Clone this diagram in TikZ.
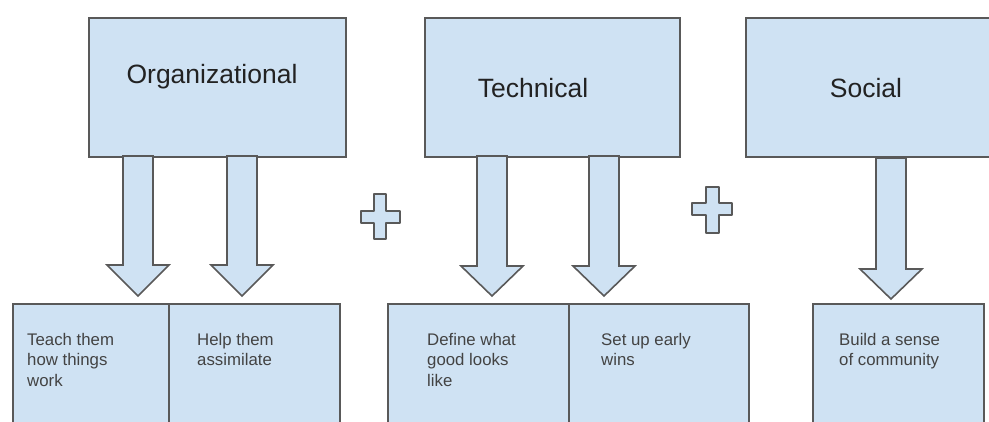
\documentclass[tikz,border=0pt]{standalone}
\usepackage{fontspec}
\setmainfont{Liberation Sans}
\definecolor{boxfill}{HTML}{CFE2F3}
\definecolor{boxline}{HTML}{595959}
\definecolor{txt}{HTML}{222222}
\tikzset{
  panel/.style={draw=boxline, fill=boxfill, line width=1.6pt, inner sep=0pt, anchor=north west},
  blockarrow/.style={draw=boxline, fill=boxfill, line width=1.6pt, line join=miter},
  plussign/.style={draw=boxline, fill=boxfill, line width=1.8pt, line join=round},
  title/.style={font=\fontsize{26.5}{30}\selectfont, text=txt, inner sep=0pt, anchor=base},
  small/.style={font=\fontsize{16.8}{20.5}\selectfont, text=txt!85, inner sep=0pt, align=left, anchor=north west},
}
\newcommand{\barrow}[4]{% cx, top, headstart, tip
  \draw[blockarrow] (#1-15,#2) -- (#1+15,#2) -- (#1+15,#3) -- (#1+31,#3) -- (#1,#4) -- (#1-31,#3) -- (#1-15,#3) -- cycle;}
\newcommand{\plusmark}[8]{% vx1 vx2 vy1 vy2 hx1 hx2 hy1 hy2
  \draw[plussign] (#1,#3) -- (#2,#3) -- (#2,#7) -- (#6,#7) -- (#6,#8) -- (#2,#8) -- (#2,#4) -- (#1,#4) -- (#1,#8) -- (#5,#8) -- (#5,#7) -- (#1,#7) -- cycle;}
\begin{document}
\begin{tikzpicture}[x=1pt, y=-1pt]
\useasboundingbox (0,0) rectangle (989,421);
\clip (0,0) rectangle (989,421);
% top boxes
\node[panel, minimum width=257pt, minimum height=139pt] (org) at (88,17) {};
\node[panel, minimum width=255pt, minimum height=139pt] (tech) at (424,17) {};
\node[panel, minimum width=260pt, minimum height=139pt] (soc) at (745,17) {};
\node[title] (orgt) at (212,83) {Organizational};
\node[title] (techt) at (533,97) {Technical};
\node[title] (soct) at (866,97) {Social};
% bottom boxes
\node[panel, minimum width=156pt, minimum height=140pt] (b1) at (12,303) {};
\node[panel, minimum width=171pt, minimum height=140pt] (b2) at (168,303) {};
\node[panel, minimum width=181pt, minimum height=140pt] (b3) at (387,303) {};
\node[panel, minimum width=180pt, minimum height=140pt] (b4) at (568,303) {};
\node[panel, minimum width=171pt, minimum height=140pt] (b5) at (812,303) {};
\node[small] (t1) at (27,333) {Teach them\\how things\\work};
\node[small] (t2) at (197,333) {Help them\\assimilate};
\node[small] (t3) at (427,333) {Define what\\good looks\\like};
\node[small] (t4) at (601,333) {Set up early\\wins};
\node[small] (t5) at (839,333) {Build a sense\\of community};
% block arrows
\barrow{138}{156}{265}{296}
\barrow{242}{156}{265}{296}
\barrow{492}{156}{266}{296}
\barrow{604}{156}{266}{296}
\barrow{891}{158}{269}{299}
% plus signs
\plusmark{374}{386}{194}{239}{361}{400}{211}{223}
\plusmark{706}{719}{187}{233}{692}{732}{203}{215}
\end{tikzpicture}
\end{document}
